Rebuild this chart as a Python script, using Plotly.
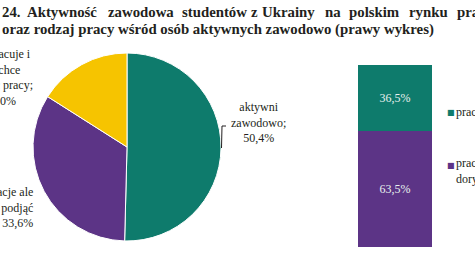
import plotly.graph_objects as go

W, H = 475, 266

# ---- data ----
pie_labels = ["aktywni zawodowo", "nie pracuje ale chce podjąć pracę", "nie pracuje i nie chce podjąć pracy"]
pie_values = [50.4, 33.6, 16.0]
bar_labels = ["praca dorywcza", "praca stała"]
bar_values = [63.5, 36.5]
title_line1 = ["24.", "Aktywność", "zawodowa", "studentów", "z", "Ukrainy", "na", "polskim", "rynku", "pracy"]
title_line2 = "oraz rodzaj pracy wśród osób aktywnych zawodowo (prawy wykres)"

# ---- style ----
GREEN = "#0e7b6c"
PURPLE = "#5c3486"
YELLOW = "#f6c400"
pie_colors = [GREEN, PURPLE, YELLOW]
bar_colors = [PURPLE, GREEN]
SERIF = "Liberation Serif"
TXT = "#231f20"

def px(x):
    return x / W

def py(y):
    return 1 - y / H

def fmt(v):
    return f"{v:.1f}".replace(".", ",") + "%"

fig = go.Figure()

fig.add_trace(go.Pie(
    labels=pie_labels, values=pie_values, sort=False, direction="clockwise", rotation=0,
    marker=dict(colors=pie_colors, line=dict(color="white", width=1)),
    textinfo="none", hoverinfo="label+percent", showlegend=False,
    domain=dict(x=[px(33), px(221)], y=[py(241), py(53)]),
))

for lab, val, col in zip(bar_labels, bar_values, bar_colors):
    fig.add_trace(go.Bar(
        x=[0], y=[val], name=lab, marker=dict(color=col, line=dict(width=0)),
        text=[fmt(val)], textposition="inside", insidetextanchor="middle",
        textfont=dict(family=SERIF, size=12, color="#e8f0ee"),
        width=1, showlegend=False, xaxis="x", yaxis="y",
    ))

ann = []

def note(x, y, text, font, xanchor="left", align="left"):
    ann.append(dict(x=px(x), y=py(y), xref="paper", yref="paper", text=text,
                    xanchor=xanchor, yanchor="middle", align=align,
                    showarrow=False, font=font))

title_font = dict(family=SERIF, size=14.8, color=TXT)
# title line 1 (justified word positions)
t1_x = [0, 25, 106, 180, 249, 260, 323, 347, 407, 455]
for w, x in zip(title_line1, t1_x):
    note(x, 12, f"<b>{w}</b>", title_font)
note(0, 30, f"<b>{title_line2}</b>", title_font)

# pie labels
lab_font = dict(family=SERIF, size=12, color=TXT)
note(258, 123, f"aktywni<br>zawodowo;<br>{fmt(pie_values[0])}", lab_font, "center", "center")
note(35, 207, f"kwalifikacje ale<br>chce podjąć<br>pracę; {fmt(pie_values[1])}", lab_font, "right", "right")
note(0, 77, f"nie pracuje i<br>nie chce<br>podjąć pracy;<br>{fmt(pie_values[2])}", lab_font, "center", "center")

# legend (right)
leg_font = dict(family=SERIF, size=12, color=TXT)
sq_font = dict(family="DejaVu Sans", size=8)
note(445, 112.5, f"<span style='color:{GREEN}'>■</span>", sq_font)
note(454, 112.5, bar_labels[1], leg_font)
note(445, 165, f"<span style='color:{PURPLE}'>■</span>", sq_font)
note(454, 171, "praca<br>dorywcza", leg_font)

shapes = [dict(type="path", xref="paper", yref="paper",
               path=f"M {px(221.5)},{py(148)} L {px(222)},{py(126)} L {px(226)},{py(126)}",
               line=dict(color=TXT, width=1))]

fig.update_layout(
    width=W, height=H, margin=dict(l=0, r=0, t=0, b=0),
    paper_bgcolor="white", plot_bgcolor="white", barmode="stack",
    xaxis=dict(domain=[px(358), px(432)], range=[-0.5, 0.5], visible=False, fixedrange=True),
    yaxis=dict(domain=[py(247), py(65)], range=[0, 100], visible=False, fixedrange=True),
    annotations=ann, shapes=shapes, showlegend=False,
)

fig.write_html("out.html")
